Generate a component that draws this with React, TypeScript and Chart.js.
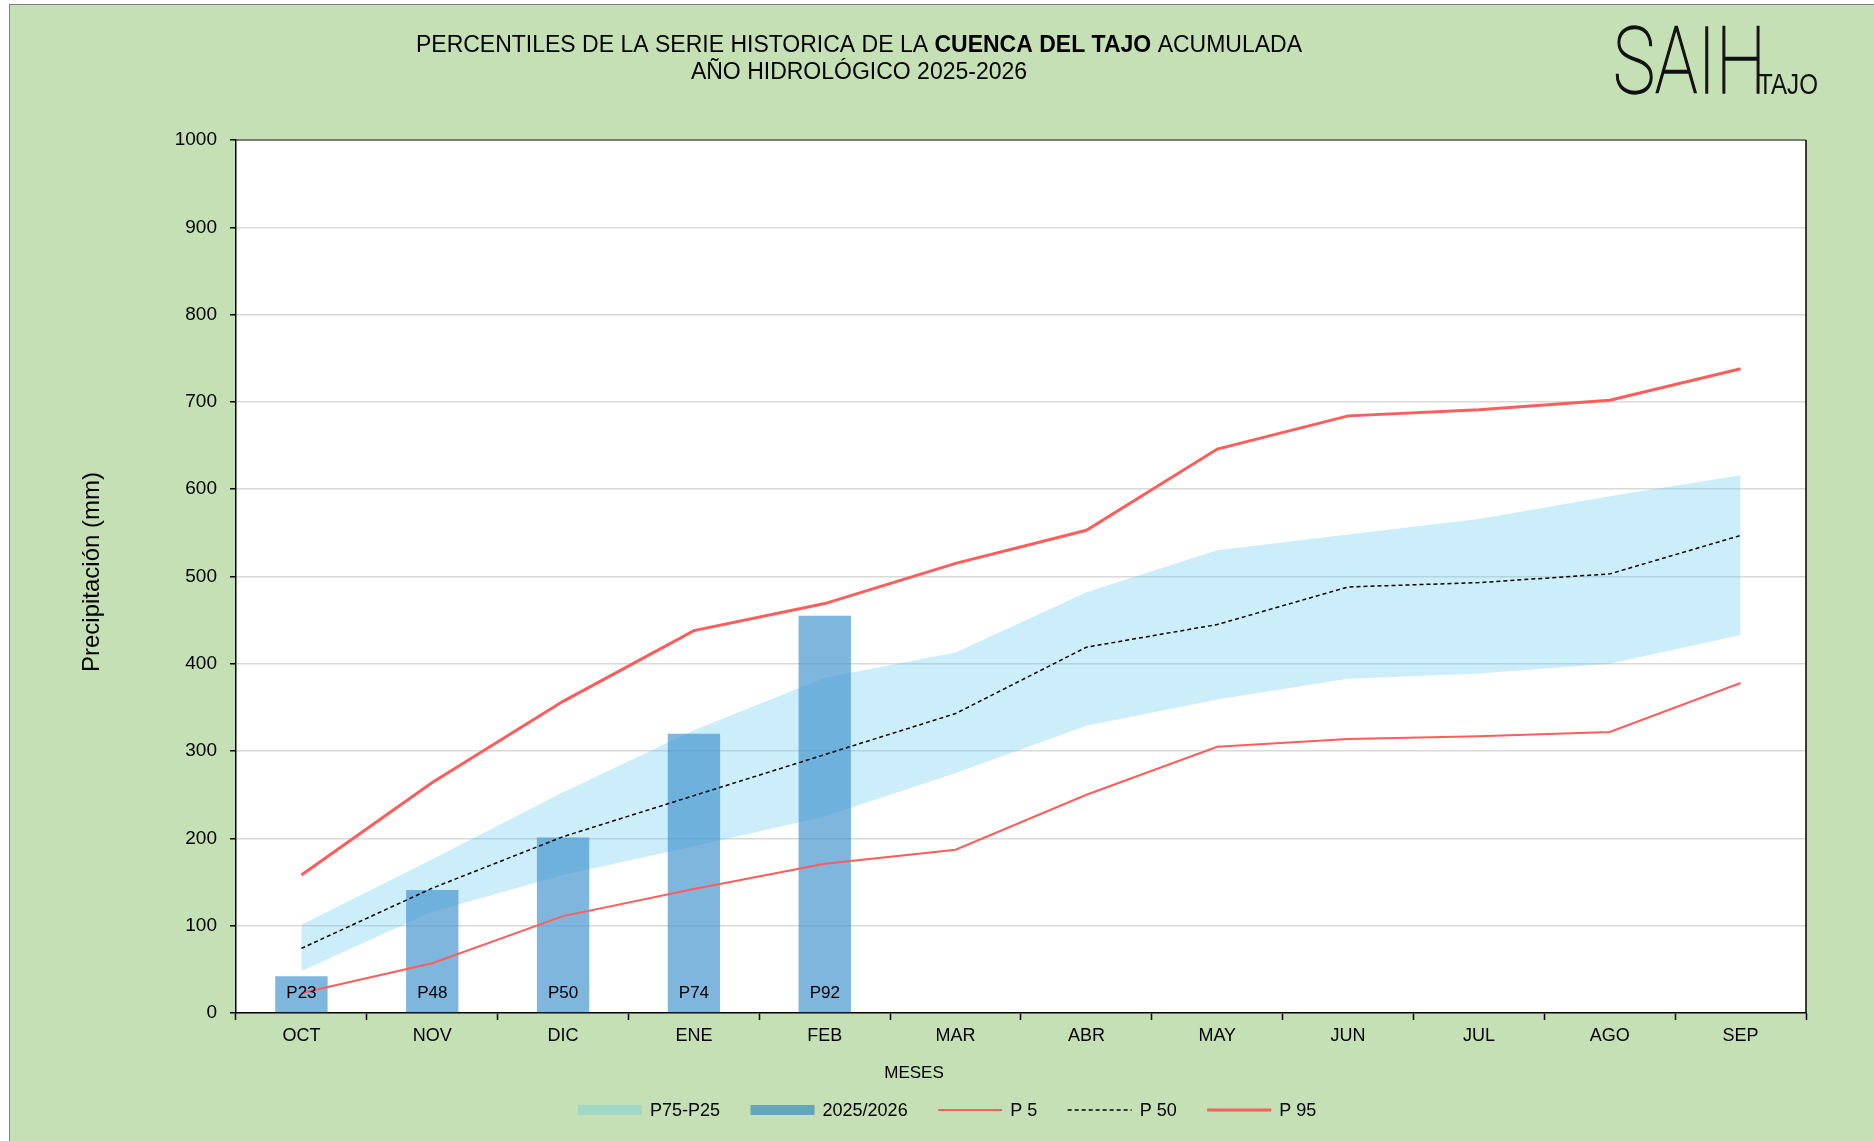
import { useEffect, useRef } from "react";
import { Chart, registerables } from "chart.js";

Chart.register(...registerables);

// ---- data ----
const months = ["OCT", "NOV", "DIC", "ENE", "FEB", "MAR", "ABR", "MAY", "JUN", "JUL", "AGO", "SEP"];
const p95 = [158, 264, 357, 438, 469, 515, 553, 646, 684, 691, 702, 738];
const p75 = [101, 176, 253, 324, 384, 413, 482, 530, 548, 566, 592, 616];
const p50 = [74, 143, 202, 249, 296, 343, 419, 445, 488, 493, 503, 547];
const p25 = [48, 116, 158, 191, 225, 275, 329, 359, 383, 389, 400, 433];
const p5 = [23, 57, 111, 142, 171, 187, 250, 305, 314, 317, 322, 378];
const current = [42, 141, 201, 320, 455];
const currentPercentiles = ["P23", "P48", "P50", "P74", "P92"];
const yMin = 0;
const yMax = 1000;
const yStep = 100;

const titleLine1: [string, boolean][] = [
  ["PERCENTILES DE LA SERIE HISTORICA DE LA ", false],
  ["CUENCA DEL TAJO", true],
  [" ACUMULADA", false],
];
const titleLine2 = "AÑO HIDROLÓGICO 2025-2026";
const yTitle = "Precipitación (mm)";
const xTitle = "MESES";

const FONT = "'Liberation Sans', Arial, sans-serif";
const RED = "#FF5C5C";
const BAND = "rgba(100,200,240,0.33)";
const BAR = "rgba(71,151,208,0.7)";

const legendItems = [
  { label: "P75-P25", kind: "box", color: "#A0D8C5" },
  { label: "2025/2026", kind: "box", color: "#62A6BC" },
  { label: "P 5", kind: "line", color: RED, width: 2, dash: [] as number[] },
  { label: "P 50", kind: "line", color: "#000", width: 1.5, dash: [4, 3] },
  { label: "P 95", kind: "line", color: RED, width: 3, dash: [] as number[] },
];

const decor = {
  id: "decor",
  beforeDraw(chart: any) {
    const { ctx, chartArea: a } = chart;
    ctx.save();
    ctx.fillStyle = "#fff";
    ctx.fillRect(a.left, a.top, a.right - a.left, a.bottom - a.top);
    ctx.restore();
  },
  afterDatasetsDraw(chart: any) {
    const { ctx, chartArea: a } = chart;
    const meta = chart.getDatasetMeta(2);
    ctx.save();
    ctx.font = `17px ${FONT}`;
    ctx.fillStyle = "#000";
    ctx.textAlign = "center";
    ctx.textBaseline = "middle";
    meta.data.forEach((el: any, i: number) => {
      if (currentPercentiles[i]) ctx.fillText(currentPercentiles[i], el.x, a.bottom - 20);
    });
    ctx.restore();
  },
  afterDraw(chart: any) {
    const { ctx, chartArea: a } = chart;
    ctx.save();
    // frame top / right
    ctx.strokeStyle = "#595959";
    ctx.lineWidth = 1.5;
    ctx.beginPath();
    ctx.moveTo(a.left, a.top);
    ctx.lineTo(a.right, a.top);
    ctx.stroke();
    ctx.strokeStyle = "#000";
    ctx.beginPath();
    ctx.moveTo(a.right, a.top);
    ctx.lineTo(a.right, a.bottom);
    ctx.stroke();

    // title
    ctx.fillStyle = "#000";
    ctx.textBaseline = "middle";
    const cx = 859;
    const tf = 23;
    let total = 0;
    for (const [t, b] of titleLine1) {
      ctx.font = `${b ? "bold " : ""}${tf}px ${FONT}`;
      total += ctx.measureText(t).width;
    }
    let x = cx - total / 2;
    ctx.textAlign = "left";
    for (const [t, b] of titleLine1) {
      ctx.font = `${b ? "bold " : ""}${tf}px ${FONT}`;
      ctx.fillText(t, x, 46);
      x += ctx.measureText(t).width;
    }
    ctx.font = `${tf}px ${FONT}`;
    ctx.textAlign = "center";
    ctx.fillText(titleLine2, cx, 73);

    // axis titles
    ctx.save();
    ctx.translate(92, 572);
    ctx.rotate(-Math.PI / 2);
    ctx.font = `24px ${FONT}`;
    ctx.fillText(yTitle, 0, 0);
    ctx.restore();
    ctx.font = `17px ${FONT}`;
    ctx.fillText(xTitle, 914, 1073);

    // legend
    let lx = 578;
    const ly = 1110;
    ctx.font = `18px ${FONT}`;
    ctx.textAlign = "left";
    for (const it of legendItems) {
      if (it.kind === "box") {
        ctx.fillStyle = it.color;
        ctx.fillRect(lx, ly - 5, 64, 10);
      } else {
        ctx.strokeStyle = it.color;
        ctx.lineWidth = it.width as number;
        ctx.setLineDash(it.dash as number[]);
        ctx.beginPath();
        ctx.moveTo(lx, ly);
        ctx.lineTo(lx + 64, ly);
        ctx.stroke();
        ctx.setLineDash([]);
      }
      ctx.fillStyle = "#000";
      ctx.fillText(it.label, lx + 72, ly + 1);
      lx += 72 + ctx.measureText(it.label).width + 30.5;
    }

    // logo
    ctx.save();
    ctx.fillStyle = "#111";
    ctx.strokeStyle = "#111";
    ctx.textBaseline = "alphabetic";
    ctx.font = `100 92px Roboto`;
    const sw = ctx.measureText("SAIH").width;
    ctx.translate(1613, 93);
    ctx.scale(153 / sw, 1);
    ctx.lineWidth = 1.4;
    ctx.fillText("SAIH", 0, 0);
    ctx.strokeText("SAIH", 0, 0);
    ctx.restore();
    ctx.save();
    ctx.fillStyle = "#111";
    ctx.textBaseline = "alphabetic";
    ctx.font = `29px ${FONT}`;
    const tw = ctx.measureText("TAJO").width;
    ctx.translate(1758, 94);
    ctx.scale(60 / tw, 1);
    ctx.fillText("TAJO", 0, 0);
    ctx.restore();

    ctx.restore();
  },
};

export default function App() {
  const ref = useRef<HTMLCanvasElement>(null);
  useEffect(() => {
    if (!ref.current) return;
    const chart = new Chart(ref.current, {
      type: "bar",
      data: {
        labels: months,
        datasets: [
          {
            type: "line",
            label: "P75",
            data: p75,
            borderWidth: 0,
            pointRadius: 0,
            backgroundColor: BAND,
            fill: "+1",
            order: 5,
          },
          {
            type: "line",
            label: "P25",
            data: p25,
            borderWidth: 0,
            pointRadius: 0,
            fill: false,
            order: 5,
          },
          {
            type: "bar",
            label: "2025/2026",
            data: current,
            backgroundColor: BAR,
            categoryPercentage: 1,
            barPercentage: 0.4,
            order: 4,
          },
          {
            type: "line",
            label: "P 5",
            data: p5,
            borderColor: RED,
            borderWidth: 2,
            pointRadius: 0,
            fill: false,
            order: 1,
          },
          {
            type: "line",
            label: "P 50",
            data: p50,
            borderColor: "#000",
            borderWidth: 1.5,
            borderDash: [4, 3],
            pointRadius: 0,
            fill: false,
            order: 1,
          },
          {
            type: "line",
            label: "P 95",
            data: p95,
            borderColor: RED,
            borderWidth: 3,
            pointRadius: 0,
            fill: false,
            order: 1,
          },
        ],
      } as any,
      options: {
        responsive: false,
        devicePixelRatio: 1,
        animation: false,
        layout: { padding: { left: 136, top: 140, right: 68, bottom: 68 } },
        plugins: { legend: { display: false }, tooltip: { enabled: false }, title: { display: false } },
        scales: {
          x: {
            offset: true,
            grid: {
              offset: true,
              drawOnChartArea: false,
              drawTicks: true,
              tickLength: 7,
              tickColor: "#000",
              tickWidth: 1.5,
            },
            border: { color: "#000", width: 1.5 },
            ticks: { color: "#000", font: { family: FONT, size: 18 }, padding: 5 },
            afterFit: (s: any) => {
              s.height = 60;
            },
          },
          y: {
            min: yMin,
            max: yMax,
            ticks: {
              stepSize: yStep,
              color: "#000",
              font: { family: FONT, size: 19 },
              padding: 13,
              callback: (v: any) => String(v),
            },
            grid: { color: "#d9d9d9", lineWidth: 1.5, tickColor: "#000", tickLength: 6, tickWidth: 1.5 },
            border: { color: "#000", width: 1.5 },
            afterFit: (s: any) => {
              s.width = 100;
            },
          },
        },
      },
      plugins: [decor],
    });
    return () => chart.destroy();
  }, []);

  return (
    <div style={{ position: "absolute", left: 0, top: 0, width: 1874, height: 1141, overflow: "hidden", background: "#fff" }}>
      <div
        style={{
          position: "absolute",
          left: 9,
          top: 4,
          width: 1900,
          height: 1200,
          background: "#C5E0B4",
          border: "1px solid #808080",
        }}
      />
      <canvas ref={ref} width={1874} height={1141} style={{ position: "absolute", left: 0, top: 0, width: 1874, height: 1141 }} />
    </div>
  );
}
